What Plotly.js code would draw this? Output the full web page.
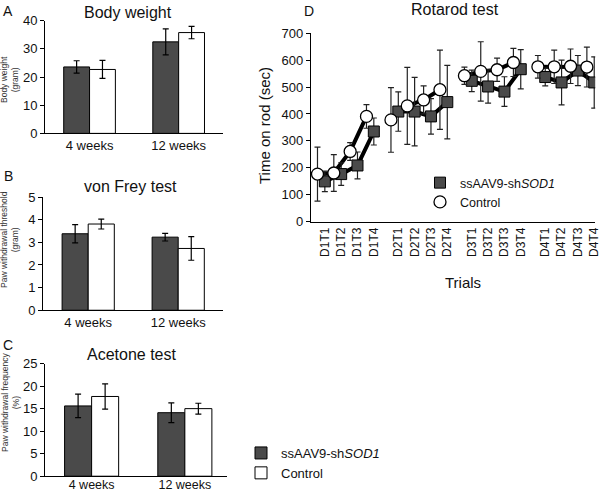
<!DOCTYPE html>
<html><head><meta charset="utf-8">
<script src="https://cdn.plot.ly/plotly-3.0.1.min.js"></script>
<style>body{margin:0;background:#fff}#c{width:600px;height:494px}</style>
</head><body><div id="c"></div>
<script>
// ---------- Data ----------
const groups = ['4 weeks', '12 weeks'];
const seriesNames = ['ssAAV9-sh<i>SOD1</i>', 'Control'];

const bwSod = [23.6, 32.5];  const bwSodErr = [2.2, 4.6];
const bwCtl = [22.7, 35.8];  const bwCtlErr = [3.2, 2.2];

const vfSod = [3.38, 3.23];  const vfSodErr = [0.40, 0.17];
const vfCtl = [3.81, 2.73];  const vfCtlErr = [0.22, 0.52];

const acSod = [15.6, 14.1];  const acSodErr = [2.6, 2.2];
const acCtl = [17.7, 15.0];  const acCtlErr = [2.8, 1.2];

const days = ['D1', 'D2', 'D3', 'D4'];
const trials = ['T1', 'T2', 'T3', 'T4'];
const rotSod = [150, 177, 209, 335, 409, 409, 391, 444, 523, 502, 483, 566, 537, 517, 561, 517];
const rotSodErr = [38, 42, 50, 50, 73, 127, 66, 136, 40, 62, 55, 73, 33, 83, 56, 95];
const rotCtl = [177, 181, 261, 391, 378, 430, 452, 490, 542, 558, 564, 591, 575, 575, 577, 574];
const rotCtlErr = [100, 68, 33, 44, 120, 143, 52, 147, 32, 110, 43, 52, 42, 62, 64, 74];

// ---------- Build ----------
const FONT = 'Liberation Sans, Arial, sans-serif';
const DARK = '#4a4a4a';
const traces = [];

function barPair(ax, ya, sod, sodErr, ctl, ctlErr, showLeg) {
  traces.push({type: 'bar', x: groups, y: sod, xaxis: ax, yaxis: ya, name: seriesNames[0],
    legend: 'legend2', showlegend: showLeg, legendgroup: 's',
    marker: {color: DARK, line: {color: '#000', width: 1}},
    error_y: {type: 'data', array: sodErr, color: '#000', thickness: 1.2, width: 3}});
  traces.push({type: 'bar', x: groups, y: ctl, xaxis: ax, yaxis: ya, name: seriesNames[1],
    legend: 'legend2', showlegend: showLeg, legendgroup: 'c',
    marker: {color: '#fff', line: {color: '#000', width: 1}},
    error_y: {type: 'data', array: ctlErr, color: '#000', thickness: 1.2, width: 3}});
}
barPair('x', 'y', bwSod, bwSodErr, bwCtl, bwCtlErr, true);
barPair('x2', 'y2', vfSod, vfSodErr, vfCtl, vfCtlErr, false);
barPair('x3', 'y3', acSod, acSodErr, acCtl, acCtlErr, false);

// Rotarod positions: trials within a day step 1, days separated by an extra gap
const labels = [], pos = [];
days.forEach((d, i) => trials.forEach((t, j) => { labels.push(d + t); pos.push(i * 4.5 + j); }));
const ctlPos = pos.map(p => p - 0.45);

function withGaps(xs, ys) {
  const gx = [], gy = [];
  xs.forEach((v, k) => { if (k > 0 && k % 4 === 0) { gx.push(null); gy.push(null); } gx.push(v); gy.push(ys[k]); });
  return {gx, gy};
}
const ls = withGaps(pos, rotSod), lc = withGaps(ctlPos, rotCtl);
traces.push({type: 'scatter', mode: 'lines', x: ls.gx, y: ls.gy, xaxis: 'x4', yaxis: 'y4',
  line: {color: '#000', width: 4}, showlegend: false, connectgaps: false, hoverinfo: 'skip'});
traces.push({type: 'scatter', mode: 'lines', x: lc.gx, y: lc.gy, xaxis: 'x4', yaxis: 'y4',
  line: {color: '#000', width: 4}, showlegend: false, connectgaps: false, hoverinfo: 'skip'});
traces.push({type: 'scatter', mode: 'markers', x: pos, y: rotSod, xaxis: 'x4', yaxis: 'y4',
  name: seriesNames[0], legend: 'legend',
  marker: {symbol: 'square', size: 11, color: DARK, line: {color: '#000', width: 1}},
  error_y: {type: 'data', array: rotSodErr, color: '#222', thickness: 1.2, width: 3}});
traces.push({type: 'scatter', mode: 'markers', x: ctlPos, y: rotCtl, xaxis: 'x4', yaxis: 'y4',
  name: seriesNames[1], legend: 'legend',
  marker: {symbol: 'circle', size: 12, color: '#fff', line: {color: '#000', width: 1.3}},
  error_y: {type: 'data', array: rotCtlErr, color: '#222', thickness: 1.2, width: 3}});

const yBase = {showline: true, linecolor: '#000', linewidth: 1, ticks: 'outside', ticklen: 4,
  tickcolor: '#000', showgrid: false, zeroline: false, tickfont: {size: 13, color: '#111'}};
const xBar = {type: 'category', showline: true, linecolor: '#000', linewidth: 1, ticks: '',
  showgrid: false, zeroline: false, tickfont: {size: 13, color: '#111'}};

const ann = [];
function txt(x, y, text, size, extra) {
  ann.push(Object.assign({xref: 'paper', yref: 'paper', x: x / 600, y: 1 - y / 494, text: text,
    showarrow: false, font: {size: size, color: '#111', family: FONT}, xanchor: 'center', yanchor: 'middle'}, extra || {}));
}
txt(8, 11, 'A', 14); txt(8, 176, 'B', 14); txt(8, 345, 'C', 14); txt(309, 11, 'D', 14);
txt(128, 13, 'Body weight', 16); txt(130, 186, 'von Frey test', 16);
txt(132, 354, 'Acetone test', 16); txt(455, 10, 'Rotarod test', 16);
txt(10, 80, 'Body weight<br>(gram)', 8.5, {textangle: -90, font: {size: 8.5, color: '#333', family: FONT}});
txt(10, 240, 'Paw withdrawal threshold<br>(gram)', 8.5, {textangle: -90, font: {size: 8.5, color: '#333', family: FONT}});
txt(10, 403, 'Paw withdrawal frequency<br>(%)', 8.5, {textangle: -90, font: {size: 8.5, color: '#333', family: FONT}});
txt(264, 126, 'Time on rod (sec)', 15, {textangle: -90});
txt(463, 282, 'Trials', 15);

const layout = {
  width: 600, height: 494, margin: {l: 0, r: 0, t: 0, b: 0},
  paper_bgcolor: '#fff', plot_bgcolor: '#fff',
  font: {family: FONT, color: '#111'},
  barmode: 'group', bargap: 0.42, bargroupgap: 0,
  xaxis: Object.assign({}, xBar, {domain: [0.075, 0.372], anchor: 'y', range: [-0.5, 1.5]}),
  yaxis: Object.assign({}, yBase, {domain: [0.730, 0.958], anchor: 'x', range: [0, 40], dtick: 10}),
  xaxis2: Object.assign({}, xBar, {domain: [0.072, 0.372], anchor: 'y2', range: [-0.5, 1.5]}),
  yaxis2: Object.assign({}, yBase, {domain: [0.372, 0.601], anchor: 'x2', range: [0, 5], dtick: 1}),
  xaxis3: Object.assign({}, xBar, {domain: [0.075, 0.378], anchor: 'y3', range: [-0.5, 1.45],
    ticklabelstandoff: -3, tickfont: {size: 12.5, color: '#111'}}),
  yaxis3: Object.assign({}, yBase, {domain: [0.036, 0.264], anchor: 'x3', range: [0, 25], dtick: 5}),
  xaxis4: {domain: [0.518, 0.992], anchor: 'y4', range: [-0.86, 16.56], showline: true, linecolor: '#000',
    linewidth: 1, ticks: '', showgrid: false, zeroline: false, tickmode: 'array', tickvals: pos,
    ticktext: labels, tickangle: -90, tickfont: {size: 12, color: '#111'}, ticklabeloverflow: 'allow'},
  yaxis4: Object.assign({}, yBase, {domain: [0.551, 0.933], anchor: 'x4', range: [0, 700], dtick: 100}),
  showlegend: true,
  legend: {x: 420 / 600, y: 1 - 168 / 494, xanchor: 'left', yanchor: 'top', bgcolor: 'rgba(0,0,0,0)',
    font: {size: 12.5, color: '#111'}, itemwidth: 30, tracegroupgap: 0},
  legend2: {x: 241 / 600, y: 1 - 438 / 494, xanchor: 'left', yanchor: 'top', bgcolor: 'rgba(0,0,0,0)',
    font: {size: 13, color: '#111'}, itemwidth: 30, tracegroupgap: 0, traceorder: 'normal'},
  annotations: ann
};
Plotly.newPlot('c', traces, layout, {displayModeBar: false, staticPlot: true});
</script></body></html>
